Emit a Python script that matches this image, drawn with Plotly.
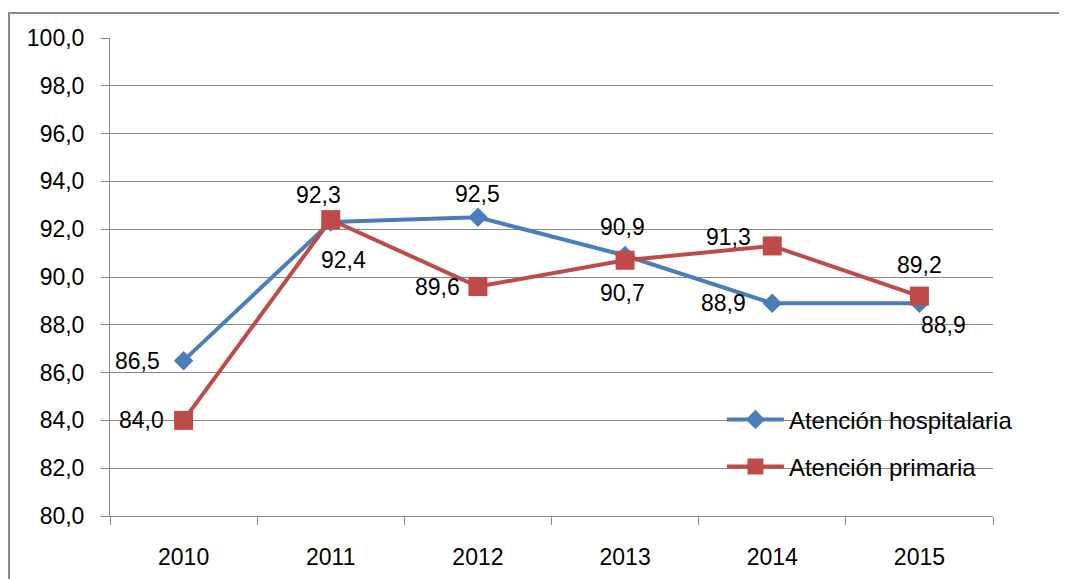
import plotly.graph_objects as go

years = ['2010', '2011', '2012', '2013', '2014', '2015']
hospitalaria = [86.5, 92.3, 92.5, 90.9, 88.9, 88.9]
primaria = [84.0, 92.4, 89.6, 90.7, 91.3, 89.2]

hosp_labels = ['86,5', '92,3', '92,5', '90,9', '88,9', '88,9']
prim_labels = ['84,0', '92,4', '89,6', '90,7', '91,3', '89,2']

# pixel offsets of the data labels (Excel placed them by hand)
hosp_shift = [(-46, 0), (-12, 27), (0, 23), (-3, 28), (-49, 0), (24, -22)]
prim_shift = [(-42, 0), (13, -40), (-40, 0), (-3, -33), (-44, 9), (0, 31)]

y_ticks = [80 + 2 * i for i in range(11)]
y_ticktext = [f'{v:.1f}'.replace('.', ',') for v in y_ticks]

blue = '#4A7EBB'
red = '#BE4B48'
gray = '#888888'
font = 'Liberation Sans'

# page body has an 8px margin, so the figure is shifted by 8px
fig = go.Figure()
fig.add_trace(go.Scatter(
    x=years, y=hospitalaria, name='Atención hospitalaria',
    mode='lines+markers',
    line=dict(color=blue, width=4),
    marker=dict(symbol='diamond', size=15, color=blue),
    legend='legend'))
fig.add_trace(go.Scatter(
    x=years, y=primaria, name='Atención primaria',
    mode='lines+markers',
    line=dict(color=red, width=4),
    marker=dict(symbol='square', size=19, color=red),
    legend='legend2'))

# annotations use the category index, so '2010' is not read as a number
for ys, labels, shifts in [(hospitalaria, hosp_labels, hosp_shift),
                           (primaria, prim_labels, prim_shift)]:
    for i, (y, t, (dx, dy)) in enumerate(zip(ys, labels, shifts)):
        fig.add_annotation(x=i, y=y, text=t, showarrow=False,
                           xshift=dx, yshift=dy,
                           font=dict(size=23, color='black', family=font))

leg = dict(xanchor='left', yanchor='middle', bgcolor='rgba(0,0,0,0)',
           itemwidth=57, font=dict(size=24, family=font))

fig.update_layout(
    width=1059, height=571,
    margin=dict(l=102, r=74, t=30, b=63, pad=0),
    paper_bgcolor='white', plot_bgcolor='white',
    font=dict(family=font, size=23, color='black'),
    showlegend=True,
    legend=dict(x=0.693, y=0.2008, **leg),
    legend2=dict(x=0.693, y=0.1025, **leg),
    xaxis=dict(type='category', range=[-0.5, len(years) - 0.5],
               showgrid=False, showline=True,
               linecolor=gray, linewidth=1, ticks='outside',
               tickson='boundaries', ticklen=8, tickcolor=gray,
               ticklabelstandoff=20, automargin=False),
    yaxis=dict(range=[80, 100], tickvals=y_ticks, ticktext=y_ticktext,
               showgrid=True, gridcolor=gray, gridwidth=1,
               showline=True, linecolor=gray, linewidth=1,
               ticks='outside', ticklen=8, tickcolor=gray,
               ticklabelstandoff=12, zeroline=False, automargin=False),
    shapes=[dict(type='rect', xref='paper', yref='paper',
                 x0=-0.1144, x1=1.3, y0=-0.3, y1=1.0523,
                 line=dict(color=gray, width=2), layer='below')],
)

fig.write_html('out.html')
